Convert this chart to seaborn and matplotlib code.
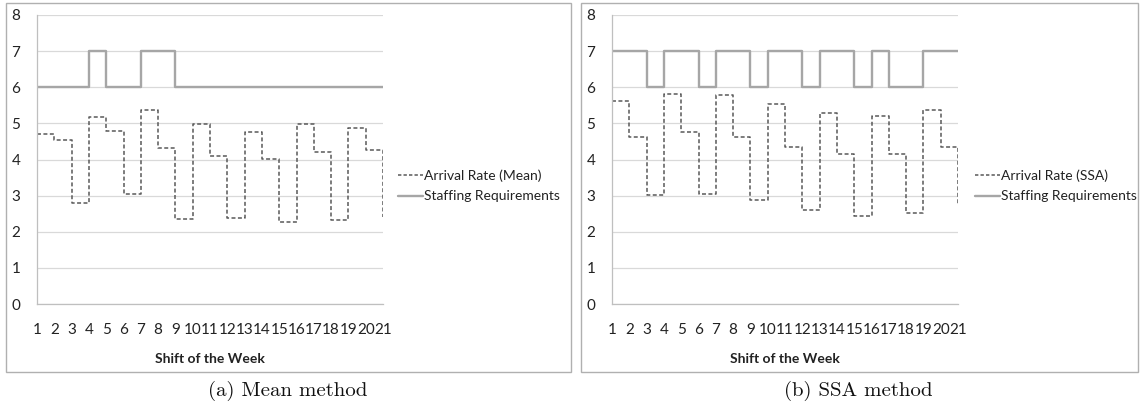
import matplotlib
matplotlib.use("Agg")
import matplotlib.pyplot as plt
from matplotlib.lines import Line2D
from matplotlib.patches import Rectangle
import seaborn as sns
import pandas as pd

# Shifts of the week (3 shifts/day x 7 days)
shifts = list(range(1, 22))

# Mean method
arrival_mean = [4.70, 4.55, 2.80, 5.18, 4.80, 3.05, 5.38, 4.32, 2.35, 4.98, 4.10,
                2.37, 4.77, 4.02, 2.28, 4.97, 4.20, 2.32, 4.87, 4.27, 2.40]
staff_mean = [6, 6, 6, 7, 6, 6, 7, 7, 6, 6, 6, 6, 6, 6, 6, 6, 6, 6, 6, 6, 6]

# SSA method
arrival_ssa = [5.62, 4.62, 3.02, 5.82, 4.75, 3.05, 5.78, 4.63, 2.87, 5.55, 4.35,
               2.60, 5.28, 4.15, 2.43, 5.20, 4.15, 2.52, 5.37, 4.35, 2.75]
staff_ssa = [7, 7, 6, 7, 7, 6, 7, 7, 6, 7, 7, 6, 7, 7, 6, 7, 6, 6, 7, 7, 7]

panels = [
    ("Arrival Rate (Mean)", arrival_mean, staff_mean, "(a) Mean method"),
    ("Arrival Rate (SSA)", arrival_ssa, staff_ssa, "(b) SSA method"),
]
staff_label = "Staffing Requirements"
x_label = "Shift of the Week"

sns.set_theme(style="white")
plt.rcParams["font.family"] = ["Lato", "DejaVu Sans"]

W, H = 1140, 418
fig = plt.figure(figsize=(W / 100, H / 100), dpi=100)

def fx(px):
    return px / W

def fy(py):
    return 1 - py / H

arrival_color = "#595959"
staff_color = "#A6A6A6"
grid_color = "#D9D9D9"
axis_color = "#BFBFBF"
text_color = "#222222"

# pixel layout for each panel: (axes left, axes right, frame left, frame right, legend x, caption x)
layout = [
    (37, 383, 6, 571, 400, 288),
    (612, 958, 581, 1138, 977, 858),
]
top_px, bottom_px = 15, 304

for (arr_name, arr, staff, caption), (al, ar, bl, br, lx, cx) in zip(panels, layout):
    # chart frame
    fig.patches.append(Rectangle((fx(bl), fy(372)), fx(br - bl), (372 - 3) / H,
                                 transform=fig.transFigure, fill=False,
                                 edgecolor="#B0B0B0", linewidth=1.0))
    ax = fig.add_axes([fx(al), fy(bottom_px), fx(ar - al), (bottom_px - top_px) / H])
    df = pd.DataFrame({"shift": shifts, "arrival": arr, "staff": staff})
    sns.lineplot(data=df, x="shift", y="staff", ax=ax, drawstyle="steps-post",
                 color=staff_color, linewidth=1.7)
    sns.lineplot(data=df, x="shift", y="arrival", ax=ax, drawstyle="steps-post",
                 color=arrival_color, linewidth=1.1, linestyle=(0, (2.6, 1.6)))
    ax.set_xlim(1, 21)
    ax.set_ylim(0, 8)
    ax.set_xticks(shifts)
    ax.set_yticks(range(0, 9))
    ax.grid(axis="y", color=grid_color, linewidth=0.9)
    ax.set_axisbelow(True)
    for s in ("top", "right"):
        ax.spines[s].set_visible(False)
    for s in ("left", "bottom"):
        ax.spines[s].set_color(axis_color)
        ax.spines[s].set_linewidth(0.9)
    ax.tick_params(axis="both", direction="out", length=4, width=0.8,
                   color=axis_color, labelsize=11, labelcolor=text_color)
    ax.tick_params(axis="x", pad=10)
    ax.tick_params(axis="y", pad=8)
    ax.set_ylabel("")
    ax.set_xlabel(x_label, fontsize=10, fontweight="bold", color=text_color)
    ax.xaxis.set_label_coords(0.5, -0.17)

    handles = [Line2D([], [], color=arrival_color, linewidth=1.1, linestyle=(0, (2.2, 1.4))),
               Line2D([], [], color=staff_color, linewidth=1.7)]
    fig.legend(handles, [arr_name, staff_label], loc="upper left",
               bbox_to_anchor=(fx(lx - 8), fy(164)), frameon=False, fontsize=10,
               handlelength=1.8, handletextpad=0.1, labelspacing=0.6,
               borderaxespad=0, labelcolor=text_color)

    fig.text(fx(cx), fy(391), caption, ha="center", va="center",
             fontsize=15, family="cmr10", color="#111111")

fig.savefig("out.png", dpi=100)
